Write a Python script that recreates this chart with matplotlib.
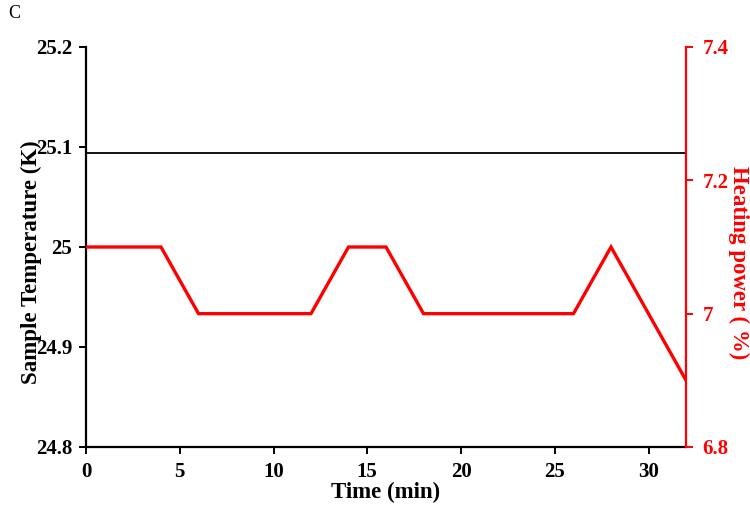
import numpy as np
from matplotlib import pyplot as plt
from matplotlib.transforms import Bbox

plt.rcParams['font.family'] = ['Liberation Serif', 'DejaVu Serif']

# data
time_temp = [0, 32]
sample_temp = [25.094, 25.094]
time_power = [0, 4, 6, 12, 14, 16, 18, 26, 28, 32]
heating_power = [7.1, 7.1, 7.0, 7.0, 7.1, 7.1, 7.0, 7.0, 7.1, 6.9]

x_ticks = [0, 5, 10, 15, 20, 25, 30]
left_ticks = [24.8, 24.9, 25.0, 25.1, 25.2]
left_labels = ['24.8', '24.9', '25', '25.1', '25.2']
right_ticks = [6.8, 7.0, 7.2, 7.4]
right_labels = ['6.8', '7', '7.2', '7.4']

RED = '#ff0000'

fig = plt.figure(figsize=(7.5, 5.08), dpi=100)
ax = fig.add_axes([86 / 750, 61 / 508, 600 / 750, 400 / 508])
ax2 = ax.twinx()

ax.plot(time_temp, sample_temp, color='black', lw=1.3, zorder=3)
ax2.plot(time_power, heating_power, color=RED, lw=2.4, solid_joinstyle='miter')

ax.set_xlim(0, 32)
ax.set_ylim(24.8, 25.2)
ax2.set_ylim(6.8, 7.4)

ax.set_xticks(x_ticks)
ax.set_xticklabels([str(t) for t in x_ticks])
ax.set_yticks(left_ticks)
ax.set_yticklabels(left_labels)
ax2.set_yticks(right_ticks)
ax2.set_yticklabels(right_labels)

for a in (ax, ax2):
    a.spines['top'].set_visible(False)
ax.spines['right'].set_visible(False)
ax2.spines['left'].set_visible(False)
ax2.spines['bottom'].set_visible(False)
ax.spines['left'].set_linewidth(1.6)
ax.spines['bottom'].set_linewidth(1.6)
ax2.spines['right'].set_linewidth(1.6)
ax2.spines['right'].set_color(RED)

ax.tick_params(axis='both', direction='out', length=5, width=1.4,
               labelsize=15)
ax.tick_params(axis='x', pad=6)
ax.tick_params(axis='y', pad=5)
for lbl in ax.get_xticklabels() + ax.get_yticklabels():
    lbl.set_fontweight('bold')
ax2.tick_params(axis='y', direction='out', length=5, width=1.4, colors=RED,
                labelsize=15, pad=7)
for lbl in ax2.get_yticklabels():
    lbl.set_fontweight('bold')

ax.set_xlabel('Time (min)', fontsize=16.5, fontweight='bold', labelpad=0)
ax2.set_ylabel('Heating power ( %)', fontsize=16.5, fontweight='bold', color=RED,
               rotation=270)
ax2.yaxis.set_label_coords(1.105, 0.46)

# left label sits partly behind the tick labels in the original
ylab = fig.text(31 / 750, 1 - 262 / 508, 'Sample Temperature (K)', fontsize=16.5,
                fontweight='bold', rotation=90, ha='center', va='center')
ylab.set_clip_box(Bbox([[0, 0], [42, 508]]))
ylab.set_clip_on(True)

fig.text(8 / 750, 1 - 13 / 508, 'C', fontsize=13, ha='left', va='center')

fig.savefig('out.png', dpi=100)
